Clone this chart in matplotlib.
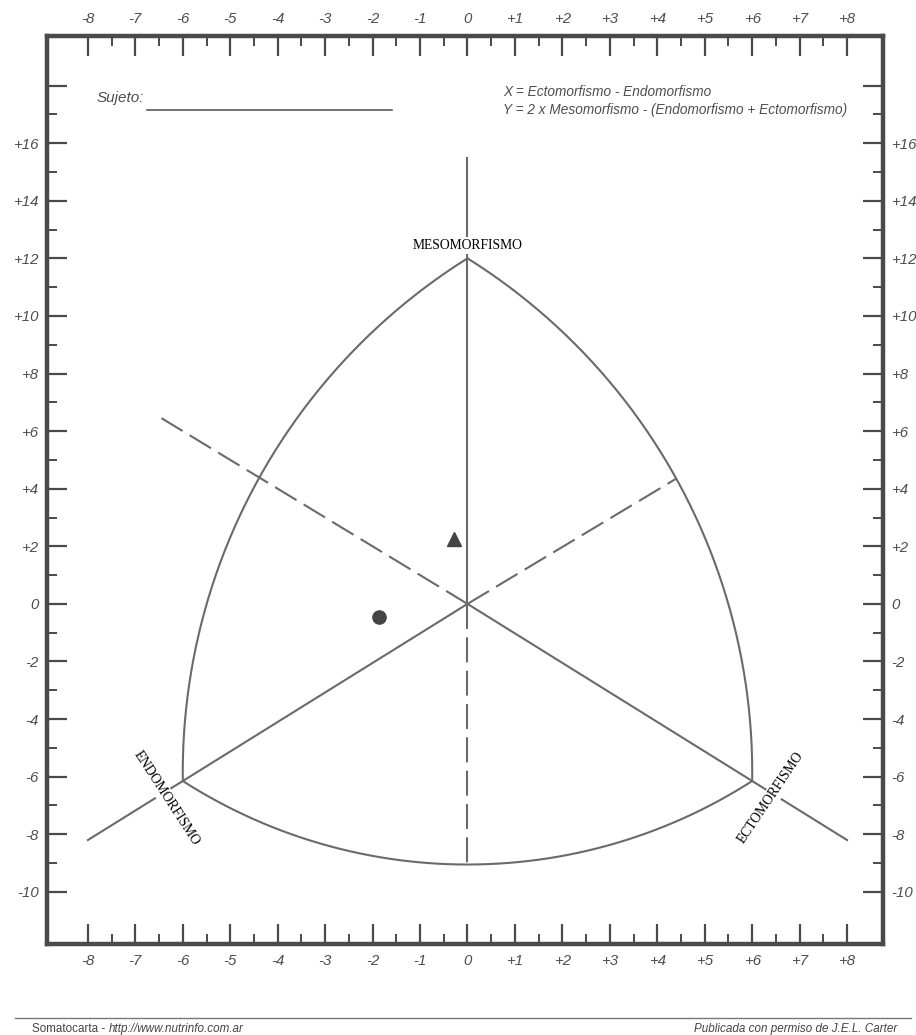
import numpy as np
import matplotlib
matplotlib.use("Agg")
import matplotlib.pyplot as plt
from matplotlib.lines import Line2D
from matplotlib.ticker import FixedLocator

# somatochart vertices (meso, endo, ecto) and a middle point on each boundary arc
vertex_x = [0, -6, 6]
vertex_y = [12, -6.15, -6.15]
arc_mid_x = [-4.4, 4.4, 0]      # left arc, right arc, bottom arc
arc_mid_y = [4.35, 4.35, -9.05]

# axis lines of the chart
meso_axis_top = 15.5
dash_upleft = (-6.45, 6.45)
dash_right = (4.4, 4.35)
solid_ends_x = [-8, 8]
solid_ends_y = [-8.2, -8.2]

# plotted subjects
triangle_pt = (-0.28, 2.27)
circle_pt = (-1.87, -0.45)

x_major = list(range(-8, 9))
x_minor = [v + 0.5 for v in range(-8, 8)]
y_major = list(range(-10, 19, 2))
y_minor = list(range(-9, 18, 2))

line_col = "#6a6a6a"
frame_col = "#4a4a4a"
text_col = "#4d4d4d"


def fmt(v):
    if v == 0:
        return "0"
    return f"+{v:g}" if v > 0 else f"-{abs(v):g}"


fig = plt.figure(figsize=(9.16, 10.35), dpi=100)
ax = fig.add_axes([47 / 916, 1 - 944 / 1035, 836 / 916, 908 / 1035])
ax.set_xlim(-8.862, 8.757)
ax.set_ylim(-11.81, 19.72)

for s in ax.spines.values():
    s.set_linewidth(3.2)
    s.set_color(frame_col)

ax.xaxis.set_major_locator(FixedLocator(x_major))
ax.xaxis.set_minor_locator(FixedLocator(x_minor))
ax.yaxis.set_major_locator(FixedLocator(y_major))
ax.yaxis.set_minor_locator(FixedLocator(y_minor))
ax.set_xticklabels([fmt(v) for v in x_major])
ax.set_yticklabels(["" if v == 18 else fmt(v) for v in y_major])
ax.tick_params(which="both", direction="in", top=True, right=True,
               labeltop=True, labelright=True, color=frame_col)
ax.tick_params(which="major", length=14.5, width=1.6)
ax.tick_params(which="minor", length=7.5, width=1.4)
ax.tick_params(axis="x", which="major", pad=7)
ax.tick_params(axis="y", which="major", pad=6)
for lab in ax.get_xticklabels() + ax.get_yticklabels():
    lab.set_fontfamily("Liberation Sans")
    lab.set_fontstyle("italic")
    lab.set_fontsize(10.8)
    lab.set_color(text_col)


def arc_through(p0, pm, p1, n=300):
    P = ax.transData.transform([p0, pm, p1])
    (x0, y0), (xm, ym), (x1, y1) = P
    A = np.array([[2 * (xm - x0), 2 * (ym - y0)], [2 * (x1 - xm), 2 * (y1 - ym)]])
    b = np.array([xm**2 + ym**2 - x0**2 - y0**2, x1**2 + y1**2 - xm**2 - ym**2])
    cx, cy = np.linalg.solve(A, b)
    r = np.hypot(x0 - cx, y0 - cy)
    a0 = np.arctan2(y0 - cy, x0 - cx)
    am = np.arctan2(ym - cy, xm - cx)
    a1 = np.arctan2(y1 - cy, x1 - cx)
    d1 = (a1 - a0) % (2 * np.pi)
    dm = (am - a0) % (2 * np.pi)
    if dm < d1:
        t = np.linspace(a0, a0 + d1, n)
    else:
        t = np.linspace(a0, a0 - (2 * np.pi - d1), n)
    pts = np.column_stack([cx + r * np.cos(t), cy + r * np.sin(t)])
    return ax.transData.inverted().transform(pts)


meso = (vertex_x[0], vertex_y[0])
endo = (vertex_x[1], vertex_y[1])
ecto = (vertex_x[2], vertex_y[2])
arcs = [(meso, endo), (meso, ecto), (endo, ecto)]
for (a, b), mx, my in zip(arcs, arc_mid_x, arc_mid_y):
    pts = arc_through(a, (mx, my), b)
    ax.plot(pts[:, 0], pts[:, 1], color=line_col, lw=1.5, zorder=2)

# axes of the chart
ax.plot([0, 0], [0, meso_axis_top], color=line_col, lw=1.5, zorder=2)
ax.plot([0, 0], [0, arc_mid_y[2]], color=line_col, lw=1.5, dashes=(12, 4), zorder=2)
ax.plot([0, dash_upleft[0]], [0, dash_upleft[1]], color=line_col, lw=1.5,
        dashes=(12, 4), zorder=2)
ax.plot([0, dash_right[0]], [0, dash_right[1]], color=line_col, lw=1.5,
        dashes=(12, 4), zorder=2)
for ex, ey in zip(solid_ends_x, solid_ends_y):
    ax.plot([0, ex], [0, ey], color=line_col, lw=1.5, zorder=2)

# pole labels
box = dict(facecolor="white", edgecolor="none", pad=1.5)
ax.text(0, 12.45, "MESOMORFISMO", family="Liberation Serif", fontsize=9.8,
        ha="center", va="center", bbox=box, zorder=3)
ax.text(-6.35, -6.74, "ENDOMORFISMO", family="Liberation Serif", fontsize=9.8,
        ha="center", va="center", rotation=-57, rotation_mode="anchor",
        bbox=box, zorder=3)
ax.text(6.40, -6.74, "ECTOMORFISMO", family="Liberation Serif", fontsize=9.8,
        ha="center", va="center", rotation=56, rotation_mode="anchor",
        bbox=box, zorder=3)

# subjects
ax.plot(*triangle_pt, marker="^", ms=10, color="#444444", zorder=4)
ax.plot(*circle_pt, marker="o", ms=9.5, color="#444444", zorder=4)

# header
ax.text(-7.81, 17.57, "Sujeto:", family="Liberation Sans", style="italic",
        fontsize=11, color=text_col, ha="left", va="center")
ax.plot([-6.75, -1.59], [17.15, 17.15], color=frame_col, lw=1.1)
ax.text(0.75, 17.78, "X = Ectomorfismo - Endomorfismo", family="Liberation Sans",
        style="italic", fontsize=9.8, color=text_col, ha="left", va="center")
ax.text(0.75, 17.15, "Y = 2 x Mesomorfismo - (Endomorfismo + Ectomorfismo)",
        family="Liberation Sans", style="italic", fontsize=9.8, color=text_col,
        ha="left", va="center")

# footer
fig.add_artist(Line2D([15 / 916, 911 / 916], [1 - 1018 / 1035] * 2,
                      color="#777777", lw=1.0))
t1 = fig.text(32 / 916, 1 - 1029 / 1035, "Somatocarta - ", family="Liberation Sans",
              fontsize=8.4, color="#444444", ha="left", va="center")
ax.annotate("http://www.nutrinfo.com.ar", xy=(1, 0.5), xycoords=t1,
            family="Liberation Sans", style="italic", fontsize=8.4,
            color="#444444", ha="left", va="center", annotation_clip=False)
fig.text(897 / 916, 1 - 1029 / 1035, "Publicada con permiso de J.E.L. Carter",
         family="Liberation Sans", style="italic", fontsize=8.4, color="#444444",
         ha="right", va="center")

fig.savefig("out.png", dpi=100)
